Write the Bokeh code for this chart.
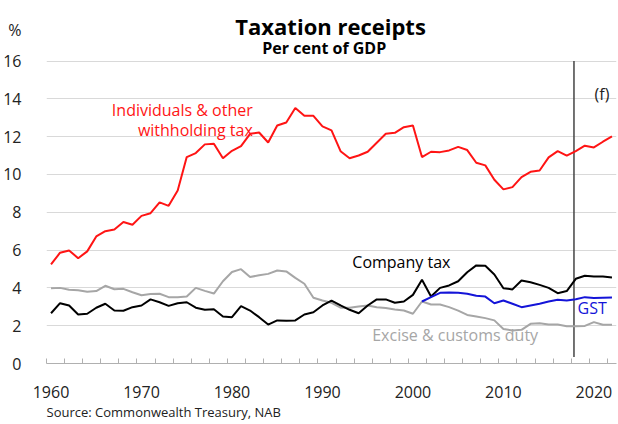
from bokeh.plotting import figure
from bokeh.models import Range1d, FixedTicker, Label, Title
from bokeh.embed import file_html
from bokeh.resources import INLINE

years = list(range(1960, 2023))
individuals = [5.24, 5.86, 5.98, 5.57, 5.93, 6.72, 7.0, 7.09, 7.48, 7.34,
               7.81, 7.95, 8.52, 8.34, 9.15, 10.92, 11.13, 11.59, 11.62, 10.86,
               11.25, 11.5, 12.15, 12.22, 11.69, 12.59, 12.75, 13.51, 13.1, 13.1,
               12.54, 12.33, 11.23, 10.86, 11.0, 11.2, 11.68, 12.15, 12.2, 12.5,
               12.59, 10.92, 11.2, 11.18, 11.27, 11.46, 11.29, 10.62, 10.48, 9.72,
               9.21, 9.33, 9.86, 10.14, 10.21, 10.9, 11.23, 10.99, 11.23, 11.52,
               11.43, 11.73, 12.01]
company = [2.66, 3.19, 3.07, 2.59, 2.63, 2.95, 3.16, 2.8, 2.79, 2.98,
           3.07, 3.39, 3.24, 3.05, 3.19, 3.24, 2.95, 2.84, 2.87, 2.49,
           2.45, 3.03, 2.8, 2.45, 2.06, 2.28, 2.26, 2.28, 2.59, 2.71,
           3.07, 3.33, 3.07, 2.84, 2.66, 3.07, 3.39, 3.39, 3.21, 3.28,
           3.63, 4.43, 3.54, 4.0, 4.13, 4.35, 4.83, 5.19, 5.17, 4.71,
           3.98, 3.92, 4.39, 4.3, 4.16, 4.0, 3.72, 3.83, 4.48, 4.64,
           4.6, 4.6, 4.55]
excise = [3.98, 4.0, 3.9, 3.88, 3.79, 3.83, 4.11, 3.93, 3.95, 3.77,
          3.61, 3.67, 3.69, 3.51, 3.51, 3.54, 4.0, 3.84, 3.7, 4.35,
          4.84, 4.99, 4.57, 4.67, 4.74, 4.92, 4.87, 4.53, 4.22, 3.48,
          3.33, 3.21, 2.95, 2.95, 3.02, 3.07, 2.98, 2.93, 2.86, 2.8,
          2.63, 3.28, 3.12, 3.12, 2.98, 2.8, 2.57, 2.49, 2.4, 2.28,
          1.83, 1.75, 1.78, 2.1, 2.13, 2.06, 2.06, 1.97, 1.97, 1.99,
          2.19, 2.05, 2.05]
gst_years = list(range(2001, 2023))
gst = [3.28, 3.51, 3.74, 3.76, 3.74, 3.69, 3.58, 3.54, 3.19, 3.33,
       3.16, 2.98, 3.07, 3.16, 3.28, 3.37, 3.33, 3.4, 3.51, 3.46,
       3.48, 3.49]

x_label_years = [1960, 1970, 1980, 1990, 2000, 2010, 2020]
x_minor_ticks = [1959.5 + 2 * k for k in range(32)]
y_ticks = [0, 2, 4, 6, 8, 10, 12, 14, 16]
unit_label = "%"
unit_label_y = 17.63
forecast_year = 2017.8
forecast_line_bottom = 0.35

FONT = "Open Sans"
RED = "#ff1414"
BLACK = "#000000"
GREY = "#a6a6a6"
BLUE = "#1414d8"
TXT = "#222222"

p = figure(width=618, height=424, output_backend="svg", toolbar_location=None,
           x_range=Range1d(1959.5, 2022.5), y_range=Range1d(0, 19.2),
           min_border_left=44, min_border_right=2, min_border_top=0,
           min_border_bottom=61, title=None)
p.outline_line_color = None
p.background_fill_color = "white"

# grid
p.xgrid.grid_line_color = None
p.ygrid.ticker = FixedTicker(ticks=y_ticks)
p.ygrid.grid_line_color = "#d9d9d9"
p.ygrid.grid_line_width = 1

# y axis (unit label placed as an extra tick label)
p.yaxis.ticker = FixedTicker(ticks=y_ticks + [unit_label_y])
p.yaxis.major_label_overrides = {unit_label_y: unit_label}
p.yaxis.axis_line_color = None
p.yaxis.major_tick_line_color = None
p.yaxis.minor_tick_line_color = None
p.yaxis.major_label_standoff = 19
p.yaxis.major_label_text_font = FONT
p.yaxis.major_label_text_font_size = "16px"
p.yaxis.major_label_text_color = TXT

# x axis
p.xaxis.ticker = FixedTicker(ticks=x_label_years, minor_ticks=x_minor_ticks)
p.xaxis.axis_line_color = "#b0b0b0"
p.xaxis.axis_line_width = 1
p.xaxis.major_tick_line_color = None
p.xaxis.minor_tick_line_color = "#b0b0b0"
p.xaxis.minor_tick_in = 5
p.xaxis.minor_tick_out = 0
p.xaxis.major_label_standoff = 16
p.xaxis.major_label_text_font = FONT
p.xaxis.major_label_text_font_size = "16px"
p.xaxis.major_label_text_color = TXT

# forecast line
p.segment(x0=[forecast_year], y0=[forecast_line_bottom], x1=[forecast_year], y1=[max(y_ticks)],
          line_color="#444444", line_width=1.5)

# series
p.line(years, excise, line_color=GREY, line_width=2)
p.line(years, company, line_color=BLACK, line_width=2)
p.line(gst_years, gst, line_color=BLUE, line_width=2)
p.line(years, individuals, line_color=RED, line_width=2)

def lab(x, y, text, color="#000000", size="16px", align="left", style="normal"):
    p.add_layout(Label(x=x, y=y, text=text, text_color=color, text_font=FONT,
                       text_font_size=size, text_align=align, text_baseline="middle",
                       text_font_style=style))

lab(1982.3, 13.39, "Individuals & other", RED, align="right")
lab(1982.3, 12.34, "withholding tax", RED, align="right")
lab(1993.3, 5.36, "Company tax", BLACK)
lab(2018.2, 2.91, "GST", BLUE)
lab(1995.5, 1.53, "Excise & customs duty", GREY)
lab(2020.9, 14.28, "(f)", TXT, align="center")

# titles
lab(1990.9, 17.84, "Taxation receipts", BLACK, size="22px", align="center", style="bold")
lab(1990.2, 16.67, "Per cent of GDP", BLACK, size="16px", align="center", style="bold")

# source note below the axis
p.add_layout(Title(text="Source: Commonwealth Treasury, NAB", align="left",
                   text_font=FONT, text_font_size="13px", text_font_style="normal",
                   text_color=TXT, standoff=0), "below")

open("out.html", "w").write(file_html(p, INLINE))
